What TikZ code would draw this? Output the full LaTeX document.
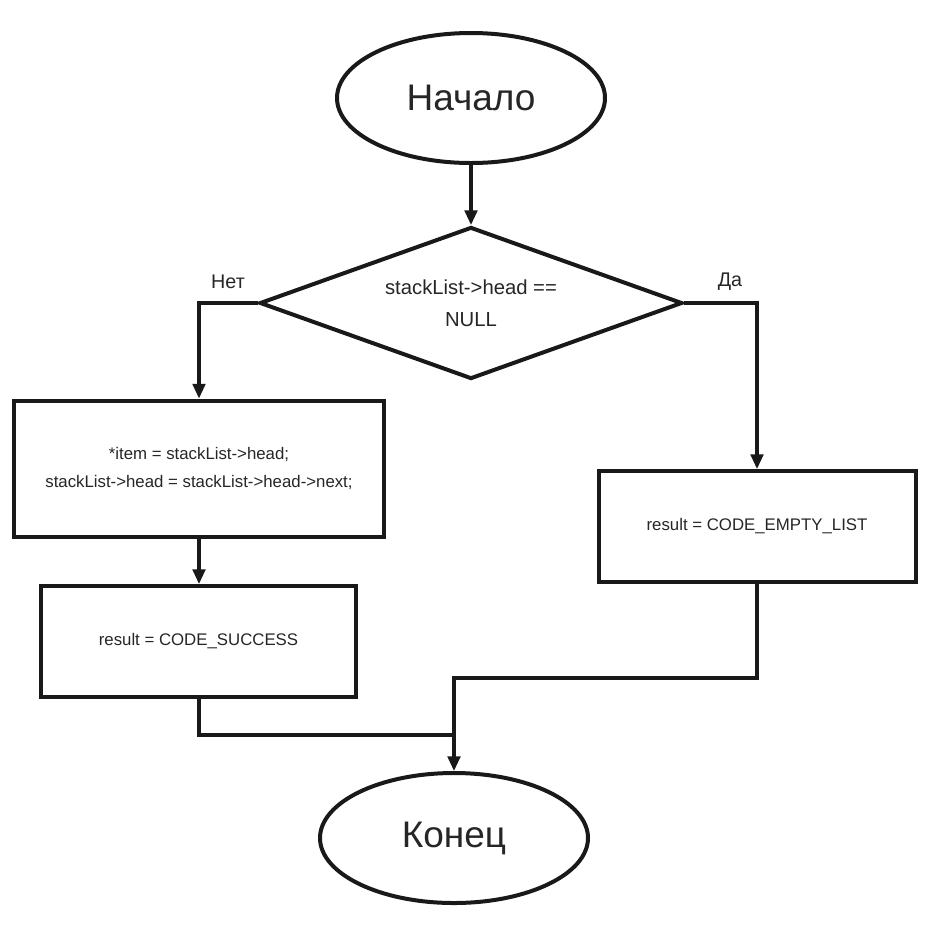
\documentclass[tikz,border=0pt]{standalone}
\usepackage{fontspec}
\setmainfont{Liberation Sans}
\usetikzlibrary{shapes.geometric,arrows.meta}
\tikzset{
  shape line/.style={draw=black!90, line width=3pt, text=black!85},
  termbox/.style={shape line, ellipse, inner sep=0pt, minimum width=201pt, minimum height=97.5pt,
    font=\fontsize{27.75pt}{33pt}\selectfont},
  decbox/.style={shape line, diamond, aspect=2.82, inner sep=0pt, minimum width=317pt, minimum height=114pt,
    align=center, font=\fontsize{15.2pt}{24pt}\selectfont},
  procbox/.style={shape line, rectangle, inner sep=0pt, align=center,
    font=\fontsize{12.6pt}{21pt}\selectfont},
  conn/.style={draw=black!90, line width=2.3pt},
  arr/.style={conn, -{Triangle[length=11pt,width=9.5pt]}},
  branchlabel/.style={font=\fontsize{14.8pt}{16pt}\selectfont, inner sep=0pt, text=black!85}
}
\begin{document}
\begin{tikzpicture}[x=0.75pt,y=-0.75pt]
\useasboundingbox (0,0) rectangle (928,926);
\node[termbox] (start) at (471,98) {Начало};
\node[decbox] (dec) at (471,303) {stackList->head ==\\NULL};
\node[procbox, minimum width=277.5pt, minimum height=102pt] (b1) at (199,468.5)
  {*item = stackList->head;\\stackList->head = stackList->head->next;};
\node[procbox, minimum width=236.25pt, minimum height=83.25pt] (b2) at (198.5,641.5)
  {result = CODE\_SUCCESS};
\node[procbox, minimum width=237.75pt, minimum height=83.25pt] (b3) at (757,526.5)
  {result = CODE\_EMPTY\_LIST};
\node[termbox] (end) at (454,838) {Конец};
\node[branchlabel] (no) at (228,282) {Нет};
\node[branchlabel] (yes) at (730,282) {Да};
\coordinate (jl) at (199,735);
\coordinate (jr) at (757,678);
\coordinate (jm) at (454,678);

\draw[arr] (start.south) -- (dec.north);
\draw[arr] (dec.west) -| (b1.north);
\draw[arr] (dec.east) -| (b3.north);
\draw[arr] (b1.south) -- (b2.north -| b1.south);
\draw[conn] (b2.south -| jl) -- (jl) -- (jl -| end.north);
\draw[arr] (b3.south) -- (jr) -- (jm) -- (end.north);
\end{tikzpicture}
\end{document}
